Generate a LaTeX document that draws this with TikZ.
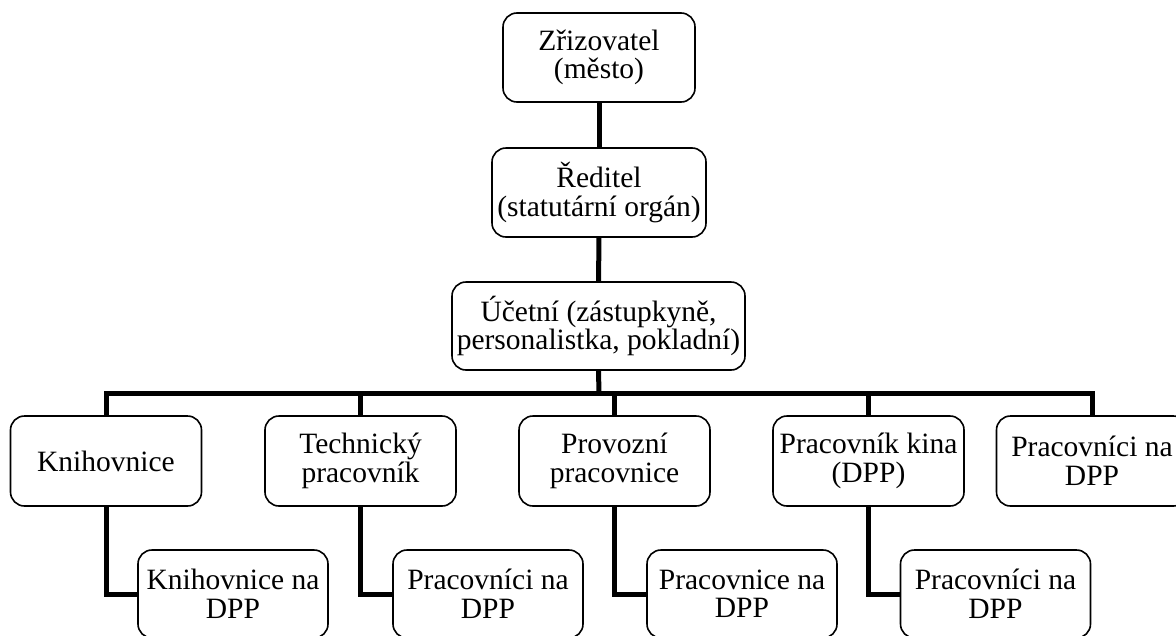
\documentclass[tikz,border=0pt]{standalone}
\usepackage{fontspec}
\setmainfont{Liberation Serif}
\begin{document}
\begin{tikzpicture}[x=1pt,y=-1pt,
  box/.style={draw=black, line width=1.6pt, rounded corners=14pt, align=center, inner sep=0pt, font=\fontsize{29.5}{28.5}\selectfont},
  topbox/.style={box, minimum height=89pt},
  rowbox/.style={box, minimum width=191pt, minimum height=90pt},
  subbox/.style={box, minimum width=190pt, minimum height=88pt},
  link/.style={draw=black, line width=5pt}]
  \useasboundingbox (0,0) rectangle (1176,635);
  \clip (0,0) rectangle (1176,635);
  \node [topbox, minimum width=192pt] (zrizovatel) at (599,57.5) {Zřizovatel\\(město)};
  \node [topbox, minimum width=214pt] (reditel) at (599,192.5) {Ředitel\\(statutární orgán)};
  \node [topbox, minimum width=293pt, minimum height=88pt] (ucetni) at (598.5,326) {Účetní (zástupkyně,\\personalistka, pokladní)};
  \coordinate (bus) at (599,393);
  \node [rowbox] (knihovnice) at (106,461) {Knihovnice};
  \node [rowbox] (technik) at (360.5,461) {Technický\\pracovník};
  \node [rowbox] (provozni) at (614.5,461) {Provozní\\pracovnice};
  \node [rowbox] (kino) at (868.5,461) {Pracovník kina\\(DPP)};
  \node [rowbox] (dpp) at (1092,461) {Pracovníci na\\DPP};
  \node [subbox] (knihovniceDpp) at (233,594) {Knihovnice na\\DPP};
  \node [subbox] (technikDpp) at (488,594) {Pracovníci na\\DPP};
  \node [subbox] (provozniDpp) at (742,594) {Pracovnice na\\DPP};
  \node [subbox] (kinoDpp) at (995.5,594) {Pracovníci na\\DPP};
  \draw [link] (zrizovatel) -- (reditel);
  \draw [link] (reditel) -- (ucetni);
  \draw [link] (ucetni.south) -- (bus);
  \draw [link] (knihovnice.north) |- (bus) -| (dpp.north);
  \draw [link] (bus -| technik.north) -- (technik.north);
  \draw [link] (bus -| provozni.north) -- (provozni.north);
  \draw [link] (bus -| kino.north) -- (kino.north);
  \draw [link] (knihovnice.south) |- (knihovniceDpp.west);
  \draw [link] (technik.south) |- (technikDpp.west);
  \draw [link] (provozni.south) |- (provozniDpp.west);
  \draw [link] (kino.south) |- (kinoDpp.west);
\end{tikzpicture}
\end{document}
